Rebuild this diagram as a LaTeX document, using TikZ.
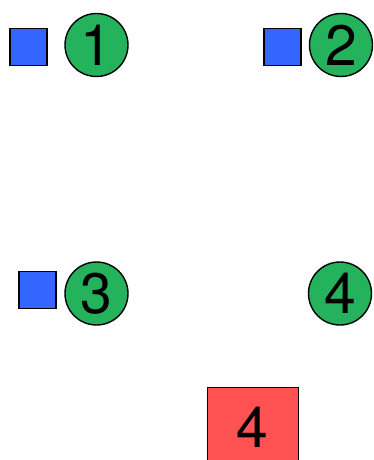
\documentclass[tikz,border=0pt]{standalone}
\usepackage{fontspec}
\setmainfont{TeX Gyre Heros}
\definecolor{cgreen}{RGB}{36,178,92}
\definecolor{cblue}{RGB}{51,102,255}
\definecolor{cred}{RGB}{255,82,82}
\begin{document}
\begin{tikzpicture}[x=1pt,y=-1pt,
  num/.style={circle,draw=black,line width=1.4pt,fill=cgreen,minimum size=63pt,inner sep=0pt,font=\fontsize{57}{57}\selectfont},
  sq/.style={draw=black,line width=1.4pt,fill=cblue,minimum size=37pt,inner sep=0pt},
  rbox/.style={draw=black,line width=1.4pt,fill=cred,minimum width=91pt,minimum height=80pt,inner sep=0pt},
  boxtext/.style={inner sep=0pt,font=\fontsize{57}{57}\selectfont}]
\useasboundingbox (0,0) rectangle (373,460);
\node[sq] (s1) at (28.5,47) {};
\node[num] (c1) at (96.5,45) {1};
\node[sq] (s2) at (282.5,47) {};
\node[num] (c2) at (341,45) {2};
\node[sq] (s3) at (37.5,290) {};
\node[num] (c3) at (96.5,293.5) {3};
\node[num] (c4) at (340,293.5) {4};
\node[rbox,anchor=north west] (r4) at (207,387) {};
\node[boxtext] (r4t) at (252.5,427) {4};
\end{tikzpicture}
\end{document}
